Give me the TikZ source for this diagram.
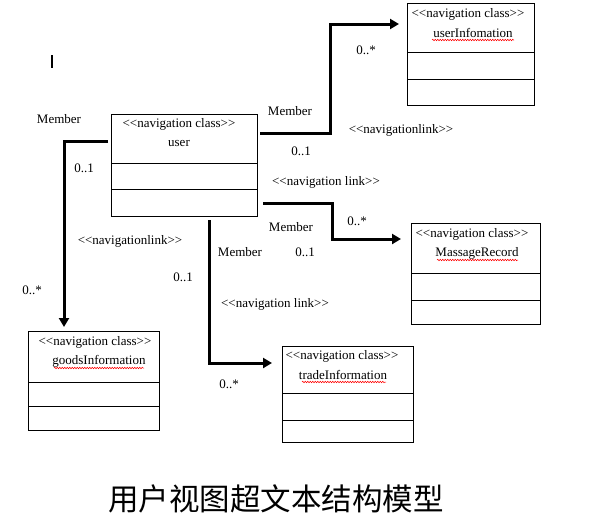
\documentclass[tikz,border=0pt]{standalone}
\usepackage{fontspec}
\setmainfont{Liberation Serif}
\newfontfamily\cjk{Noto Sans CJK SC}
\usetikzlibrary{arrows.meta,decorations.pathmorphing}
\newcommand\lgl{<\kern0pt<}
\newcommand\rgr{>\kern0pt>}
\begin{document}
\begin{tikzpicture}[x=1pt,y=-1pt,
  box/.style={draw,line width=1pt},
  divline/.style={line width=1pt},
  link/.style={line width=3pt,-{Triangle[length=9pt,width=10pt]}},
  lbl/.style={inner sep=0pt,font=\fontsize{13}{15}\selectfont},
  squig/.style={draw=red,line width=0.5pt,decorate,decoration={snake,amplitude=0.8pt,segment length=2.5pt}}]
\useasboundingbox (0,0) rectangle (597,531);
\fill[white] (0,0) rectangle (597,531);
% cursor mark
\draw[line width=2pt] (52,55) -- (52,68);
% classes
\draw[box] (111,114) rectangle (257,216);
\draw[divline] (111,163) -- (257,163) (111,189) -- (257,189);
\node[lbl] (u1) at (179,124) {\lgl navigation class\rgr};
\node[lbl] (u2) at (179,143) {user};

\draw[box] (407,3) rectangle (534,105);
\draw[divline] (407,52) -- (534,52) (407,79) -- (534,79);
\node[lbl] (ui1) at (468,14) {\lgl navigation class\rgr};
\node[lbl] (ui2) at (473,33) {userInfomation};
\draw[squig] (432,40) -- (514,40);

\draw[box] (411,223) rectangle (540,324);
\draw[divline] (411,273) -- (540,273) (411,300) -- (540,300);
\node[lbl] (m1) at (472,234) {\lgl navigation class\rgr};
\node[lbl] (m2) at (477,253) {MassageRecord};
\draw[squig] (437,260) -- (518,260);

\draw[box] (28,331) rectangle (159,430);
\draw[divline] (28,382) -- (159,382) (28,406) -- (159,406);
\node[lbl] (g1) at (95,342) {\lgl navigation class\rgr};
\node[lbl] (g2) at (99,361) {goodsInformation};
\draw[squig] (54,368) -- (144,368);

\draw[box] (282,346) rectangle (413,442);
\draw[divline] (282,393) -- (413,393) (282,420) -- (413,420);
\node[lbl] (t1) at (342,356) {\lgl navigation class\rgr};
\node[lbl] (t2) at (343,375) {tradeInformation};
\draw[squig] (302,382) -- (386,382);

% connectors
\draw[link] (260,133) -- (330,133) -- (330,24) -- (399,24);
\draw[link] (108,141) -- (64,141) -- (64,327);
\draw[link] (263,203) -- (332,203) -- (332,239) -- (401,239);
\draw[link] (209,220) -- (209,363) -- (272,363);

% labels
\node[lbl] (a1) at (59,119) {Member};
\node[lbl] (a2) at (84,168) {0..1};
\node[lbl] (a3) at (130,241) {\lgl navigationlink\rgr};
\node[lbl] (a4) at (32,290) {0..*};
\node[lbl] (a5) at (183,277) {0..1};
\node[lbl] (a6) at (240,252) {Member};
\node[lbl] (a7) at (305,252) {0..1};
\node[lbl] (a8) at (291,227) {Member};
\node[lbl] (a9) at (357,221) {0..*};
\node[lbl] (a10) at (326,182) {\lgl navigation link\rgr};
\node[lbl] (a11) at (401,130) {\lgl navigationlink\rgr};
\node[lbl] (a12) at (301,151) {0..1};
\node[lbl] (a13) at (290,111) {Member};
\node[lbl] (a14) at (366,50) {0..*};
\node[lbl] (a15) at (275,304) {\lgl navigation link\rgr};
\node[lbl] (a16) at (229,384) {0..*};
\node[inner sep=0pt,font=\cjk\fontsize{30.5}{33}\selectfont] (title) at (276,499) {用户视图超文本结构模型};
\end{tikzpicture}
\end{document}
